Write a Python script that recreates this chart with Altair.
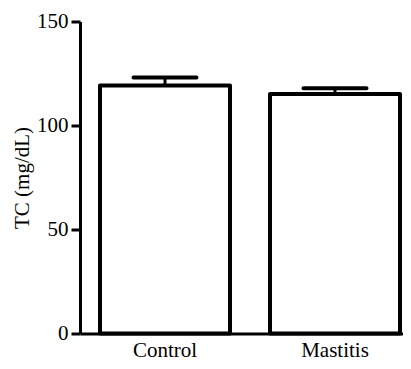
import altair as alt
import pandas as pd

groups = ["Control", "Mastitis"]
means = [119.2, 115.1]
uppers = [123.1, 117.9]

df = pd.DataFrame({"group": groups, "mean": means, "upper": uppers})

FONT = "Times New Roman, Liberation Serif, DejaVu Serif, serif"

x = alt.X("group:N", sort=groups, title=None,
          scale=alt.Scale(paddingInner=0.2353, paddingOuter=0.0676, align=0.87),
          axis=alt.Axis(labelAngle=0, ticks=False, labelPadding=6,
                        labelFont=FONT, labelFontSize=21, labelColor="black"))
y_scale = alt.Scale(domain=[0, 150])
y_axis = alt.Axis(values=[0, 50, 100, 150], title="TC (mg/dL)", tickSize=9, labelPadding=3, titlePadding=4,
                  labelFont=FONT, labelFontSize=21, labelColor="black",
                  titleFont=FONT, titleFontSize=21, titleColor="black", titleFontWeight="normal")

base = alt.Chart(df)

bars = base.mark_bar(fill="white", stroke="black", strokeWidth=4, strokeJoin="round").encode(
    x=x,
    y=alt.Y("mean:Q", scale=y_scale, axis=y_axis),
)

stem = base.mark_rule(color="black", strokeWidth=3).encode(
    x=x,
    y=alt.Y("mean:Q", scale=y_scale),
    y2="upper:Q",
)

cap = base.mark_tick(color="black", size=67, thickness=4, cornerRadius=2, opacity=1).encode(
    x=x,
    y=alt.Y("upper:Q", scale=y_scale),
)

chart = alt.layer(bars, stem, cap).properties(
    width=323, height=312,
    autosize="none",
    padding={"left": 72, "top": 13.5, "right": 0, "bottom": 27.5},
).configure_view(stroke=None).configure_axis(
    grid=False,
    domainColor="black", domainWidth=3,
    tickColor="black", tickWidth=3,
    labelFont=FONT, labelFontSize=21, labelColor="black",
    titleFont=FONT, titleFontSize=21, titleColor="black", titleFontWeight="normal",
)

chart.save("out.html", embed_options={"renderer": "svg", "actions": False})
